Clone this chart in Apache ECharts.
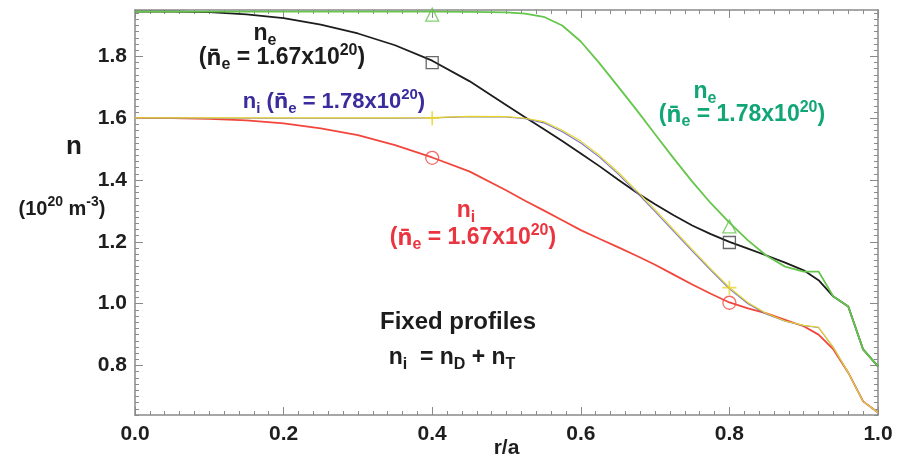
<!DOCTYPE html>
<html>
<head>
<meta charset="utf-8">
<script src="https://cdn.jsdelivr.net/npm/echarts@6/dist/echarts.min.js"></script>
<style>
  html, body { margin: 0; padding: 0; background: #fff; }
  #chart { width: 899px; height: 463px; }
</style>
</head>
<body>
<div id="chart"></div>
<script>
// Normalised radius r/a at which every profile is sampled
const rOverA = [0, 0.05, 0.1, 0.15, 0.2, 0.25, 0.3, 0.35, 0.4, 0.45, 0.5, 0.525, 0.55, 0.575,
  0.6, 0.625, 0.65, 0.675, 0.7, 0.725, 0.75, 0.775, 0.8, 0.825, 0.85, 0.875, 0.9, 0.92,
  0.94, 0.96, 0.98, 1.0];

// Electron density, line-averaged 1.78e20 (green)
const neHigh = [1.945, 1.945, 1.945, 1.945, 1.945, 1.945, 1.945, 1.945, 1.945, 1.944, 1.942, 1.938,
  1.928, 1.900, 1.848, 1.778, 1.703, 1.627, 1.548, 1.470, 1.395, 1.325, 1.262, 1.205, 1.155,
  1.120, 1.104, 1.104, 1.023, 0.991, 0.852, 0.797];

// Electron density, line-averaged 1.67e20 (black)
const neLow = [1.945, 1.945, 1.943, 1.936, 1.924, 1.903, 1.874, 1.836, 1.786, 1.720, 1.642, 1.603,
  1.565, 1.526, 1.486, 1.445, 1.402, 1.360, 1.322, 1.286, 1.253, 1.225, 1.200, 1.178, 1.156,
  1.133, 1.108, 1.076, 1.023, 0.991, 0.852, 0.797];

// Ion density for the 1.67e20 case (red)
const niLow = [1.600, 1.600, 1.598, 1.593, 1.583, 1.567, 1.545, 1.513, 1.473, 1.428, 1.366, 1.333,
  1.302, 1.270, 1.238, 1.210, 1.183, 1.155, 1.126, 1.094, 1.062, 1.032, 1.004, 0.985, 0.969,
  0.948, 0.927, 0.900, 0.852, 0.777, 0.684, 0.648];

// Ion density for the 1.78e20 case: n_D + n_T (blue) and n_i (yellow)
const niHighBlue = [1.600, 1.600, 1.600, 1.600, 1.600, 1.600, 1.600, 1.600, 1.601, 1.605, 1.604, 1.598,
  1.585, 1.556, 1.520, 1.474, 1.420, 1.360, 1.298, 1.234, 1.170, 1.108, 1.048, 1.000, 0.966,
  0.943, 0.929, 0.923, 0.858, 0.777, 0.684, 0.648];
const niHighYellow = [1.601, 1.601, 1.601, 1.601, 1.601, 1.601, 1.601, 1.601, 1.602, 1.606, 1.605, 1.600,
  1.589, 1.561, 1.526, 1.480, 1.426, 1.366, 1.304, 1.240, 1.176, 1.113, 1.053, 1.004, 0.968,
  0.944, 0.930, 0.924, 0.858, 0.777, 0.684, 0.648];

// Marker positions along each profile
const markX = [0.4, 0.8];
const markNeHigh = [1.935, 1.250];
const markNeLow = [1.780, 1.198];
const markNiLow = [1.472, 1.003];
const markNiHigh = [1.600, 1.052];

// Axis ticks
const yMajorTicks = [0.8, 1.0, 1.2, 1.4, 1.6, 1.8];
const yMin = 0.64, yMax = 1.95;

const FONT = "'Liberation Sans', Arial, Helvetica, sans-serif";
const BAR_FONT = "'Noto Sans', 'DejaVu Sans', sans-serif";
const COL = {
  green: '#66c54c', greenText: '#12a676', black: '#1c1c1c', red: '#f2463c', redText: '#ea3540',
  purple: '#3a2c9c', yellow: '#e6d42a', blue: '#7c78c0', axis: '#8a8a8a'
};

const pairs = (ys) => rOverA.map((x, i) => [x, ys[i]]);
const markPairs = (ys) => markX.map((x, i) => [x, ys[i]]);

function richFor(color, size) {
  const sub = Math.round(size * 0.7);
  return {
    m: { fontSize: size, fontWeight: 'bold', color, fontFamily: FONT, lineHeight: size + 7, verticalAlign: 'middle' },
    nb: { fontSize: size, fontWeight: 'bold', color, fontFamily: BAR_FONT, lineHeight: size + 7, verticalAlign: 'middle' },
    sb: { fontSize: sub, fontWeight: 'bold', color, fontFamily: FONT, lineHeight: sub, verticalAlign: 'bottom' },
    sp: { fontSize: sub, fontWeight: 'bold', color, fontFamily: FONT, lineHeight: sub, verticalAlign: 'top' }
  };
}

function label(text, x, y, color, size) {
  return {
    type: 'text', x, y, z: 100,
    style: {
      text, rich: richFor(color, size), align: 'center', verticalAlign: 'middle',
      fontFamily: FONT, fontWeight: 'bold', fontSize: size, fill: color
    }
  };
}

const minorY = [];
for (let k = 0; k <= Math.round((yMax - yMin) / 0.02); k++) minorY.push(+(yMin + k * 0.02).toFixed(2));

function lineSeries(name, ys, color, width, z) {
  return {
    name, type: 'line', data: pairs(ys), showSymbol: false, symbol: 'none',
    lineStyle: { color, width }, z, silent: true, animation: false, clip: true
  };
}

function markerSeries(name, ys, symbol, color, size) {
  const filled = symbol.startsWith('path://');
  return {
    name, type: 'scatter', data: markPairs(ys), symbol, symbolSize: size, z: 20,
    itemStyle: filled ? { color } : { color: 'rgba(0,0,0,0)', borderColor: color, borderWidth: 1.3 },
    silent: true, animation: false
  };
}

const tickStyle = { color: COL.axis, width: 1 };
const labelStyle = { fontSize: 21, fontWeight: 'bold', color: '#1e1e1e', fontFamily: FONT };

const chart = echarts.init(document.getElementById('chart'), null, { renderer: 'canvas' });
chart.setOption({
  backgroundColor: '#ffffff',
  animation: false,
  grid: { left: 135, right: 21, top: 10, bottom: 48, containLabel: false, outerBoundsMode: 'none' },
  xAxis: [
    {
      type: 'value', position: 'bottom', min: 0, max: 1, interval: 0.2,
      axisLine: { lineStyle: { color: COL.axis, width: 1.5 } },
      axisTick: { inside: true, length: 8, lineStyle: tickStyle },
      minorTick: { show: true, splitNumber: 10, length: 4, lineStyle: tickStyle },
      splitLine: { show: false },
      axisLabel: { ...labelStyle, margin: 9, formatter: (v) => v.toFixed(1) },
      name: 'r/a', nameLocation: 'middle', nameGap: 23, nameMoveOverlap: false,
      nameTextStyle: { fontSize: 21, fontWeight: 'bold', color: '#1e1e1e', fontFamily: FONT }
    },
    {
      type: 'value', position: 'top', min: 0, max: 1, interval: 0.2,
      axisLine: { lineStyle: { color: COL.axis, width: 1.5 } },
      axisTick: { inside: true, length: 8, lineStyle: tickStyle },
      minorTick: { show: true, splitNumber: 10, length: 4, lineStyle: tickStyle },
      splitLine: { show: false }, axisLabel: { show: false }
    }
  ],
  yAxis: [
    {
      type: 'value', position: 'left', min: yMin, max: yMax,
      axisLine: { show: true, lineStyle: { color: COL.axis, width: 1.5 } },
      axisTick: { inside: true, length: 8, lineStyle: tickStyle, customValues: yMajorTicks },
      splitLine: { show: false },
      axisLabel: { ...labelStyle, margin: 8, customValues: yMajorTicks, formatter: (v) => v.toFixed(1) }
    },
    {
      type: 'value', position: 'left', min: yMin, max: yMax,
      axisLine: { show: false },
      axisTick: { inside: true, length: 4, lineStyle: tickStyle, customValues: minorY },
      splitLine: { show: false }, axisLabel: { show: false }
    },
    {
      type: 'value', position: 'right', min: yMin, max: yMax,
      axisLine: { show: true, lineStyle: { color: COL.axis, width: 1.5 } },
      axisTick: { inside: true, length: 8, lineStyle: tickStyle, customValues: yMajorTicks },
      splitLine: { show: false }, axisLabel: { show: false }
    },
    {
      type: 'value', position: 'right', min: yMin, max: yMax,
      axisLine: { show: false },
      axisTick: { inside: true, length: 4, lineStyle: tickStyle, customValues: minorY },
      splitLine: { show: false }, axisLabel: { show: false }
    }
  ],
  series: [
    lineSeries('n_e 1.67', neLow, COL.black, 1.8, 3),
    lineSeries('n_e 1.78', neHigh, COL.green, 1.8, 4),
    lineSeries('n_i 1.67', niLow, COL.red, 1.8, 3),
    lineSeries('n_D+n_T 1.78', niHighBlue, COL.blue, 1.1, 5),
    lineSeries('n_i 1.78', niHighYellow, COL.yellow, 1.1, 6),
    markerSeries('mark n_e 1.78', markNeHigh, 'triangle', COL.green, 13),
    markerSeries('mark n_e 1.67', markNeLow, 'rect', '#444', 12),
    markerSeries('mark n_i 1.67', markNiLow, 'circle', COL.red, 13),
    markerSeries('mark n_i 1.78', markNiHigh, 'path://M4.4,0h1.2v10h-1.2zM0,4.4h10v1.2h-10z', COL.yellow, 14)
  ],
  graphic: [
    label('{m|n}{sb|e}', 265, 34, COL.black, 23),
    label('{m|(}{nb|n\u0304}{sb|e}{m| = 1.67x10}{sp|20}{m|)}', 282, 58, COL.black, 23),
    label('{m|n}{sb|i}{m| (}{nb|n\u0304}{sb|e}{m| = 1.78x10}{sp|20}{m|)}', 334, 102, COL.purple, 22),
    label('{m|n}{sb|e}', 705, 92, COL.greenText, 23),
    label('{m|(}{nb|n\u0304}{sb|e}{m| = 1.78x10}{sp|20}{m|)}', 742, 115, COL.greenText, 23),
    label('{m|n}{sb|i}', 466, 211, COL.redText, 23),
    label('{m|(}{nb|n\u0304}{sb|e}{m| = 1.67x10}{sp|20}{m|)}', 473, 238, COL.redText, 23),
    label('{m|Fixed profiles}', 458, 322, COL.black, 24),
    label('{m|n}{sb|i}{m|  = n}{sb|D}{m| + n}{sb|T}', 452, 358, COL.black, 23),
    label('{m|n}', 74, 147, COL.black, 26),
    label('{m|(10}{sp|20}{m| m}{sp|-3}{m|)}', 62, 209, COL.black, 20)
  ]
});
</script>
</body>
</html>
